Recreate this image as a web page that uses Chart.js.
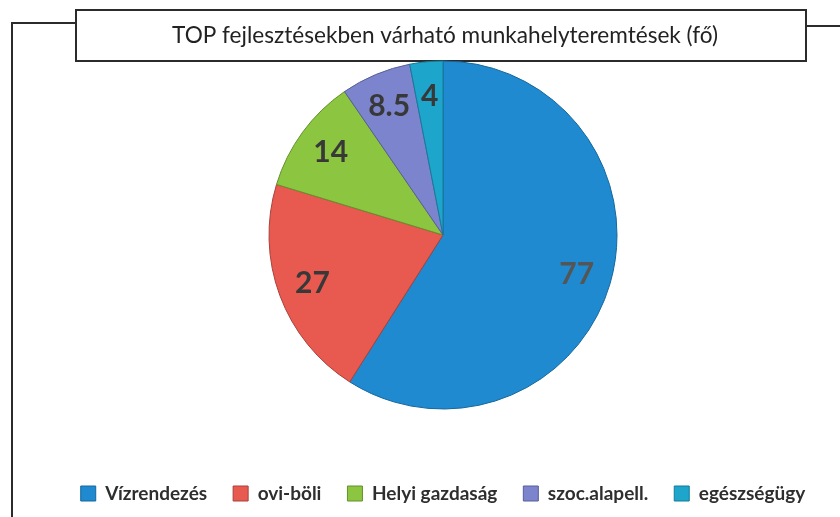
<!DOCTYPE html>
<html>
<head>
<meta charset="utf-8">
<script src="https://cdn.jsdelivr.net/npm/chart.js@4.4.1/dist/chart.umd.min.js"></script>
<style>
  html, body { margin: 0; padding: 0; background: #ffffff; }
  #wrap { width: 840px; height: 517px; }
</style>
</head>
<body>
<div id="wrap"><canvas id="pieChart" width="840" height="517"></canvas></div>
<script>
const chartTitle = "TOP fejlesztésekben várható munkahelyteremtések (fő)";
const categories = ["Vízrendezés", "ovi-böli", "Helyi gazdaság", "szoc.alapell.", "egészségügy"];
const values = [77, 27, 14, 8.5, 4];
const sliceColors = ["#1f8ad0", "#e85a4f", "#8cc540", "#7b84cc", "#1da5cc"];
const edgeColors = ["#16679c", "#a8413a", "#63902b", "#575e99", "#157a98"];

// frame + title box, drawn behind the pie
const framePlugin = {
    id: "frame",
    beforeDraw(chart) {
        const ctx = chart.ctx;
        ctx.save();
        ctx.strokeStyle = "#2b2b2b";
        ctx.lineWidth = 2;

        ctx.beginPath();
        ctx.moveTo(12, 517);
        ctx.lineTo(12, 23);
        ctx.lineTo(76, 23);
        ctx.moveTo(806, 26);
        ctx.lineTo(840, 26);
        ctx.stroke();

        ctx.fillStyle = "#ffffff";
        ctx.fillRect(76, 10, 730, 51);
        ctx.strokeRect(76, 10, 730, 51);

        ctx.fillStyle = "#222222";
        ctx.font = "22.6px Lato";
        ctx.textAlign = "center";
        ctx.textBaseline = "middle";
        ctx.fillText(chartTitle, 445, 36);
        ctx.restore();
    },
};

// value labels inside slices
const valueLabels = {
    id: "valueLabels",
    afterDatasetsDraw(chart) {
        const ctx = chart.ctx;
        const meta = chart.getDatasetMeta(0);
        ctx.save();
        ctx.font = "bold 30px Lato";
        ctx.textAlign = "center";
        ctx.textBaseline = "middle";
        meta.data.forEach((arc, i) => {
            const p = arc.getProps(["x", "y", "startAngle", "endAngle", "outerRadius"], true);
            const mid = (p.startAngle + p.endAngle) / 2;
            const r = p.outerRadius * 0.8;
            ctx.fillStyle = i === 0 ? "#555555" : "#383838";
            ctx.fillText(String(values[i]), p.x + Math.cos(mid) * r, p.y + Math.sin(mid) * r);
        });
        ctx.restore();
    },
};

new Chart(document.getElementById("pieChart"), {
    type: "pie",

    data: {
        labels: categories,

        datasets: [
            {
                data: values,
                backgroundColor: sliceColors,
                borderColor: edgeColors,
                borderWidth: 1,
                radius: 174,
            },
        ],
    },

    options: {
        responsive: false,
        animation: false,

        layout: {
            padding: { top: 12, left: 46, right: 0, bottom: 4 },
        },

        plugins: {
            legend: {
                position: "bottom",

                labels: {
                    boxWidth: 15,
                    boxHeight: 15,
                    padding: 26,
                    color: "#2e2e2e",

                    font: {
                        family: "Lato",
                        size: 19,
                        weight: "bold",
                    },
                },
            },

            tooltip: {
                enabled: false,
            },
        },
    },

    plugins: [framePlugin, valueLabels],
});
</script>
</body>
</html>
